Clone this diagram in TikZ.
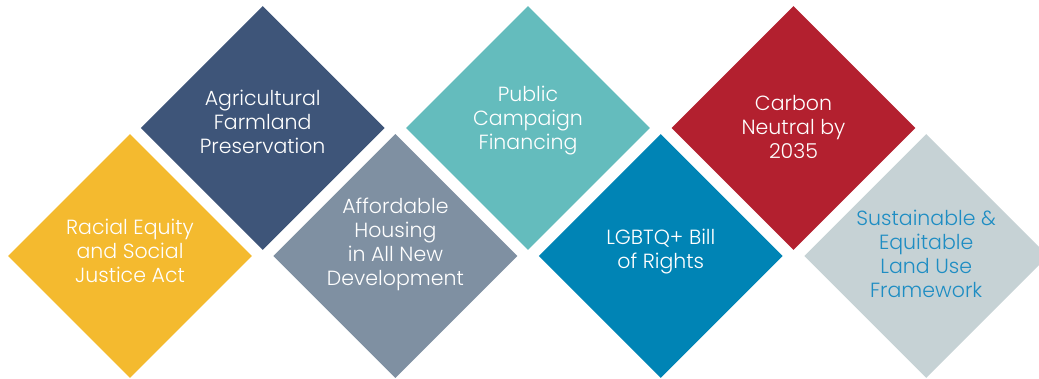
\documentclass[tikz,border=0pt]{standalone}
\usepackage{fontspec}
\setmainfont{Poppins}[UprightFont=* Light]
\usetikzlibrary{shapes.geometric}
\definecolor{tileyellow}{HTML}{F4BA2F}
\definecolor{tilenavy}{HTML}{3E5579}
\definecolor{tileslate}{HTML}{7F90A2}
\definecolor{tileteal}{HTML}{64BCBD}
\definecolor{tileblue}{HTML}{0084B5}
\definecolor{tilered}{HTML}{B3202F}
\definecolor{tilegrey}{HTML}{C6D2D5}
\definecolor{textblue}{HTML}{1E8DC3}
\tikzstyle{tile}=[diamond,aspect=1,minimum width=244pt,minimum height=244pt,inner sep=0pt,draw=none]
\tikzstyle{tiletext}=[align=center,inner sep=0pt,text=white,font=\fontsize{20.5}{24}\selectfont]

\begin{document}
\begin{tikzpicture}[x=1pt,y=-1pt]
    \clip (0,0) rectangle (1039,378);
    % losanges
    \foreach \pos/\name/\col/\dy/\txt in {{(130,256)/racial/tileyellow/5/{Racial Equity\\and Social\\Justice Act}},
        {(262.7,128)/farmland/tilenavy/6/{Agricultural\\Farmland\\Preservation}},
        {(395.4,256)/housing/tileslate/12/{Affordable\\Housing\\in All New\\Development}},
        {(528,128)/campaign/tileteal/7/{Public\\Campaign\\Financing}},
        {(660.8,256)/lgbtq/tileblue/4.5/{LGBTQ+ Bill\\of Rights}},
        {(793.5,128)/carbon/tilered/1/{Carbon\\Neutral by\\2035}}}
    {
        \node[tile,fill=\col] (\name) at \pos {};
        \node[tiletext] (\name-t) at ([yshift=\dy pt]\name.center) {\txt};
    }
    % dernier losange
    \node[tile,fill=tilegrey] (landuse) at (926.2,256) {};
    \node[tiletext,text=textblue] (landuse-t) at ([yshift=2pt]landuse.center) {Sustainable \&\\Equitable\\Land Use\\Framework};
\end{tikzpicture}
\end{document}
